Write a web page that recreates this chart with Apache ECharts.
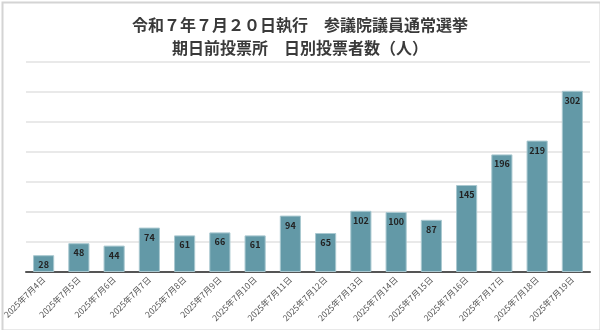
<!DOCTYPE html>
<html>
<head>
<meta charset="utf-8">
<script src="https://cdn.jsdelivr.net/npm/echarts@6/dist/echarts.min.js"></script>
<style>
html,body{margin:0;padding:0;background:#fff;}
#c{width:600px;height:330px;}
</style>
</head>
<body>
<div id="c"></div>
<script>
const categories = ['2025年7月4日','2025年7月5日','2025年7月6日','2025年7月7日','2025年7月8日','2025年7月9日','2025年7月10日','2025年7月11日','2025年7月12日','2025年7月13日','2025年7月14日','2025年7月15日','2025年7月16日','2025年7月17日','2025年7月18日','2025年7月19日'];
const voters = [28,48,44,74,61,66,61,94,65,102,100,87,145,196,219,302];
const titleLines = ['令和７年７月２０日執行　参議院議員通常選挙','期日前投票所　日別投票者数（人）'];

const chart = echarts.init(document.getElementById('c'), null, {renderer:'canvas'});
chart.setOption({
  animation:false,
  backgroundColor:'#fff',
  textStyle:{fontFamily:'"Noto Sans CJK JP", sans-serif'},
  title:{
    text:titleLines.join('\n'),
    left:'center', top:8,
    textStyle:{fontSize:16, fontWeight:'bold', color:'#3a3a3a', lineHeight:23, fontFamily:'"Noto Sans CJK JP", sans-serif'}
  },
  graphic:[{
    type:'rect', left:0, top:0, z:100,
    shape:{x:1,y:1,width:598,height:328},
    style:{fill:null, stroke:'#d4d4d4', lineWidth:2}
  }],
  grid:{left:26, right:10, top:62, bottom:58, containLabel:false},
  xAxis:{
    type:'category', data:categories,
    axisLine:{lineStyle:{color:'#555', width:2}},
    axisTick:{show:false},
    axisLabel:{rotate:45, fontSize:8.5, color:'#555', interval:0, margin:6}
  },
  yAxis:{
    type:'value', min:0, max:350, interval:50,
    axisLabel:{show:false}, axisLine:{show:false}, axisTick:{show:false},
    splitLine:{lineStyle:{color:'#e2e2e2', width:1.5}}
  },
  series:[{
    type:'bar', data:voters, barWidth:'60%',
    itemStyle:{color:'#6399a7', borderColor:'#a9c8d0', borderWidth:1},
    label:{show:true, position:'insideTop', distance:5, fontSize:9, fontWeight:'bold', color:'#222'}
  }]
});
</script>
</body>
</html>
